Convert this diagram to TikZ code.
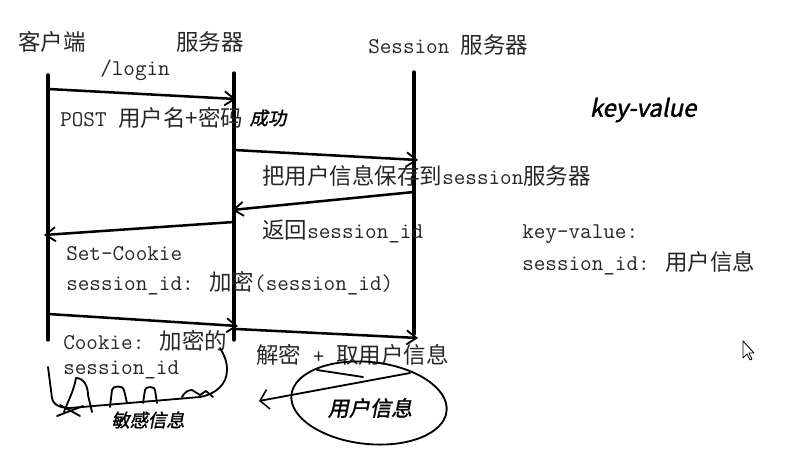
\documentclass[tikz,border=0pt]{standalone}
\usepackage{fontspec}
\newfontfamily\cjk{Noto Sans CJK SC}
\newfontfamily\hand[FakeSlant=0.2,FakeBold=1.5]{Noto Sans CJK SC}
\usetikzlibrary{arrows.meta}

\begin{document}
\begin{tikzpicture}[x=0.025cm, y=-0.025cm, line cap=round, line join=round,
                life/.style ={line width=2.4pt},
                msg/.style ={line width=1.8pt, -{Straight Barb[length=7pt, width=10pt, line width=1.3pt]}},
                lbl/.style ={anchor=west, inner sep=0pt, text=black!85, font=\ttfamily\fontsize{16}{19}\selectfont},
                scrawl/.style ={inner sep=0pt, font=\hand\fontsize{13}{15}\selectfont},
                pen/.style ={line width=1.3pt}]

            \useasboundingbox (0,0) rectangle (808,472);

            %lifelines
            \node[lbl] (client) at (18,42) {\cjk 客户端};
            \node[lbl] (server) at (176,42) {\cjk 服务器};
            \node[lbl] (store) at (368,45) {Session {\cjk 服务器}};
            \coordinate (c-top) at (48,75);   \coordinate (c-bot) at (48,340);
            \coordinate (s-top) at (234,73);  \coordinate (s-bot) at (234,340);
            \coordinate (k-top) at (414,72);  \coordinate (k-bot) at (414,334);
            \draw[life] (c-top) -- (c-bot);
            \draw[life] (s-top) -- (s-bot);
            \draw[life] (k-top) -- (k-bot);

            %messages
            \coordinate (m1s) at (48,89);   \coordinate (m1e) at (236,99);
            \coordinate (m2s) at (234,150); \coordinate (m2e) at (418,160);
            \coordinate (m3s) at (414,192); \coordinate (m3e) at (232,210);
            \coordinate (m4s) at (234,222); \coordinate (m4e) at (44,235);
            \coordinate (m5s) at (48,314);  \coordinate (m5e) at (238,326);
            \coordinate (m6s) at (236,329); \coordinate (m6e) at (418,338);
            \draw[msg] (m1s) -- (m1e);
            \draw[msg] (m2s) -- (m2e);
            \draw[msg] (m3s) -- (m3e);
            \draw[msg] (m4s) -- (m4e);
            \draw[msg] (m5s) -- (m5e);
            \draw[msg] (m6s) -- (m6e);

            \node[lbl] (login) at (100,70) {/login};
            \node[lbl] (post) at (60,118) {POST {\cjk 用户名+密码}};
            \node[lbl] (save) at (262,176) {{\cjk 把用户信息保存到}session{\cjk 服务器}};
            \node[lbl] (back) at (262,231) {{\cjk 返回}session\_id};
            \node[lbl] (setc) at (66,254) {Set-Cookie};
            \node[lbl] (enc) at (66,283) {session\_id: {\cjk 加密}(session\_id)};
            \node[lbl] (cook) at (63,341) {Cookie: {\cjk 加密的}};
            \node[lbl] (cookid) at (63,370) {session\_id};
            \node[lbl] (dec) at (256,355) {{\cjk 解密} + {\cjk 取用户信息}};
            \node[lbl] (kv) at (522,234) {key-value:};
            \node[lbl] (kvid) at (522,263) {session\_id: {\cjk 用户信息}};

            %scribbles
            \node[scrawl] (ok) at (268,118) {成功};
            \node[scrawl, font=\hand\fontsize{17}{19}\selectfont] (kvh) at (643,110) {key-value};
            \node[scrawl] (secret) at (148,420) {敏感信息};
            \node[scrawl, font=\hand\fontsize{15}{17}\selectfont] (info) at (370,408) {用户信息};

            \draw[pen] (48,367) -- (52,398) to[out=-80,in=180] (70,408) -- (200,397)
                to[out=10,in=-90] (227,370) to[out=90,in=-60] (220,348);
            \draw[pen] (64,412) to[out=70,in=-100] (76,378) to[out=0,in=90] (88,395) -- (92,412);
            \draw[pen] (110,407) -- (112,390) to[out=90,in=90] (124,390) -- (127,403);
            \draw[pen] (143,403) -- (145,390) to[out=90,in=90] (155,390) -- (157,403);
            \draw[pen] (182,397) to[out=60,in=180] (192,390) -- (200,395) -- (206,391) -- (213,397);
            \draw[pen] (57,416) -- (83,406);
            \draw[pen] (60,405) -- (80,416);

            \draw[pen, rotate around={-6:(369,403)}] (369,403) ellipse [x radius=78, y radius=41];
            \coordinate (ret-s) at (410,373);
            \coordinate (ret-e) at (259,401);
            \draw[pen, -{Straight Barb[length=6pt, width=14pt, line width=1.1pt]}] (ret-s) -- (ret-e);
            \draw[pen] (317,370) -- (363,377);

            %pointer
            \draw[line width=0.6pt, fill=white] (743,341) -- (743,358) -- (747,354) -- (750,360)
                -- (752,359) -- (749,353) -- (754,353) -- cycle;
    \end{tikzpicture}
\end{document}
